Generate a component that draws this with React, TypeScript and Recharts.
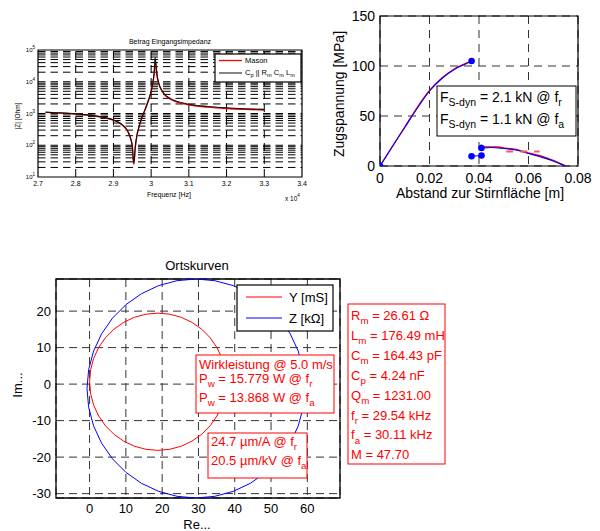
import React from 'react';
import {
  ComposedChart,
  Line,
  XAxis,
  YAxis,
  ReferenceLine,
  ReferenceArea,
  CartesianGrid,
  Scatter,
} from 'recharts';

const FONT = '"Liberation Sans", Arial, Helvetica, sans-serif';

// ---------- Chart 1: Betrag Eingangsimpedanz ----------
const impFreqMason = [2.72, 2.75, 2.8, 2.85, 2.9, 2.92, 2.94, 2.945, 2.95, 2.954, 2.958, 2.96, 2.97, 2.98, 2.99, 3.0, 3.005, 3.008, 3.012, 3.015, 3.02, 3.03, 3.05, 3.1, 3.15, 3.2, 3.25, 3.3];
const impZMason = [1090, 1050, 965, 838, 615, 468, 245, 170, 92, 25, 88, 138, 465, 1000, 2030, 4900, 9700, 17500, 40000, 17000, 8900, 4750, 2880, 1880, 1590, 1440, 1350, 1290];
const impFreqBVD = [2.72, 2.75, 2.8, 2.85, 2.9, 2.92, 2.94, 2.945, 2.95, 2.954, 2.958, 2.96, 2.97, 2.98, 2.99, 3.0, 3.005, 3.008, 3.0105, 3.013, 3.016, 3.02, 3.03, 3.05, 3.1, 3.15, 3.2, 3.25, 3.3];
const impZBVD = [1100, 1057, 972, 844, 625, 477, 250, 173, 94, 27, 90, 141, 474, 1027, 2096, 5111, 10200, 20000, 58000, 32000, 15700, 9166, 4930, 3001, 1966, 1664, 1511, 1416, 1348];
const impXTicks = [2.7, 2.8, 2.9, 3.0, 3.1, 3.2, 3.3, 3.4];
const impXTickLabels = ['2.7', '2.8', '2.9', '3', '3.1', '3.2', '3.3', '3.4'];
const impYTicks = [10, 100, 1000, 10000, 100000];
const impDecades = [10, 100, 1000, 10000];
const impMinorFactors = [1, 2, 3, 4, 5, 6, 7, 8, 9];
const impVGrid = [2.8, 2.9, 3.0, 3.1, 3.2, 3.3];

const masonData = impFreqMason.map((f, i) => ({ f, z: impZMason[i] }));
const bvdData = impFreqBVD.map((f, i) => ({ f, z: impZBVD[i] }));
const impHGrid = impDecades.flatMap((d) => impMinorFactors.map((m) => m * d)).filter((v) => v > 10);

// ---------- Chart 2: Zugspannung ----------
const stressXTicks = [0, 0.02, 0.04, 0.06, 0.08];
const stressYTicks = [0, 50, 100, 150];
const blueUpperX = [0, 0.005, 0.01, 0.015, 0.02, 0.025, 0.03, 0.035, 0.037];
const blueUpperY = [0, 19.5, 38.5, 57.5, 75, 87.5, 96.5, 102.5, 105];
const redUpperX = [0, 0.005, 0.01, 0.015, 0.02, 0.025, 0.03, 0.035, 0.037];
const redUpperY = [0, 19.5, 39, 58.5, 75.5, 88, 97, 103, 105];
const blueLowAX = [0.037, 0.041];
const blueLowAY = [9.7, 10.5];
const blueLowBX = [0.041, 0.045, 0.05, 0.055, 0.06, 0.065, 0.07, 0.0748];
const blueLowBY = [18, 18.5, 17.5, 16, 12.5, 9, 5, 0];
const redLowX = [0.0408, 0.041, 0.045, 0.048, 0.05, 0.055, 0.06, 0.065, 0.07, 0.075];
const redLowY = [21.5, 19, 19, 19, 18, 16.5, 13, 10, 5.5, 0];
const redDashX = [0.051, 0.0645];
const redDashY = [14.5, 14.5];
const dotX = [0, 0.037, 0.037, 0.041, 0.041];
const dotY = [0, 105, 9.7, 10.5, 18];

const zip = (xs: number[], ys: number[]) => xs.map((x, i) => ({ x, y: ys[i] }));

// ---------- Chart 3: Ortskurven ----------
const ortXTicks = [0, 10, 20, 30, 40, 50, 60];
const ortYTicks = [-30, -20, -10, 0, 10, 20];
const zRe = [59.3, 58.85, 57.49, 55.28, 52.28, 48.58, 44.3, 39.56, 34.51, 29.3, 24.09, 19.04, 14.3, 10.02, 6.32, 3.32, 1.11, -0.25, -0.7, -0.25, 1.11, 3.32, 6.32, 10.02, 14.3, 19.04, 24.09, 29.3, 34.51, 39.56, 44.3, 48.58, 52.28, 55.28, 57.49, 58.85, 59.3];
const zIm = [-1.2, 4.01, 9.06, 13.8, 18.08, 21.78, 24.78, 26.99, 28.34, 28.8, 28.34, 26.99, 24.78, 21.78, 18.08, 13.8, 9.06, 4.01, -1.2, -6.41, -11.46, -16.2, -20.48, -24.18, -27.18, -29.39, -30.74, -31.2, -30.74, -29.39, -27.18, -24.18, -20.48, -16.2, -11.46, -6.41, -1.2];
const yRe = [37.6, 37.31, 36.47, 35.08, 33.2, 30.89, 28.2, 25.23, 22.07, 18.8, 15.53, 12.37, 9.4, 6.71, 4.4, 2.52, 1.13, 0.29, 0, 0.29, 1.13, 2.52, 4.4, 6.71, 9.4, 12.37, 15.53, 18.8, 22.07, 25.23, 28.2, 30.89, 33.2, 35.08, 36.47, 37.31, 37.6];
const yIm = [0.65, 3.92, 7.08, 10.05, 12.74, 15.05, 16.93, 18.32, 19.16, 19.45, 19.16, 18.32, 16.93, 15.05, 12.74, 10.05, 7.08, 3.92, 0.65, -2.62, -5.78, -8.75, -11.44, -13.75, -15.63, -17.02, -17.86, -18.15, -17.86, -17.02, -15.63, -13.75, -11.44, -8.75, -5.78, -2.62, 0.65];

// ---------- Text content ----------
type Part = [string, 'n' | 'sub' | 'sup'];
const paramLines: Part[][] = [
  [['R', 'n'], ['m', 'sub'], [' = 26.61 Ω', 'n']],
  [['L', 'n'], ['m', 'sub'], [' = 176.49 mH', 'n']],
  [['C', 'n'], ['m', 'sub'], [' = 164.43 pF', 'n']],
  [['C', 'n'], ['p', 'sub'], [' = 4.24 nF', 'n']],
  [['Q', 'n'], ['m', 'sub'], [' = 1231.00', 'n']],
  [['f', 'n'], ['r', 'sub'], [' = 29.54 kHz', 'n']],
  [['f', 'n'], ['a', 'sub'], [' = 30.11 kHz', 'n']],
  [['M = 47.70', 'n']],
];
const powerLines: Part[][] = [
  [['Wirkleistung @ 5.0 m/s', 'n']],
  [['P', 'n'], ['w', 'sub'], [' = 15.779 W @ f', 'n'], ['r', 'sub']],
  [['P', 'n'], ['w', 'sub'], [' = 13.868 W @ f', 'n'], ['a', 'sub']],
];
const ampLines: Part[][] = [
  [['24.7 µm/A @ f', 'n'], ['r', 'sub']],
  [['20.5 µm/kV @ f', 'n'], ['a', 'sub']],
];
const forceLines: Part[][] = [
  [['F', 'n'], ['S-dyn', 'sub'], [' = 2.1 kN @ f', 'n'], ['r', 'sub']],
  [['F', 'n'], ['S-dyn', 'sub'], [' = 1.1 kN @ f', 'n'], ['a', 'sub']],
];
const impLegend2: Part[] = [['C', 'n'], ['p', 'sub'], [' || R', 'n'], ['m', 'sub'], [' C', 'n'], ['m', 'sub'], [' L', 'n'], ['m', 'sub']];

function Rich({ x, y, parts, size, fill, anchor }: { x: number; y: number; parts: Part[]; size: number; fill: string; anchor?: string }) {
  const shift = size * 0.32;
  let cur = 0;
  return (
    <text x={x} y={y} fontSize={size} fill={fill} textAnchor={anchor || 'start'}>
      {parts.map(([t, kind], i) => {
        const target = kind === 'sub' ? shift : kind === 'sup' ? -size * 0.45 : 0;
        const dy = target - cur;
        cur = target;
        return (
          <tspan key={i} dy={dy} fontSize={kind === 'n' ? size : size * 0.75}>
            {t}
          </tspan>
        );
      })}
    </text>
  );
}

const LogTick = (props: any) => {
  const { x, y, payload } = props;
  const exp = Math.round(Math.log10(payload.value));
  return (
    <text x={x} y={y + 2} textAnchor="end" fontSize={6} fill="#000">
      10
      <tspan dy={-3} fontSize={4.5}>
        {exp}
      </tspan>
    </text>
  );
};

export default function App() {
  return (
    <div style={{ position: 'absolute', left: 0, top: 0, width: 600, height: 531, fontFamily: FONT, background: '#fff' }}>
      {/* Chart 1 */}
      <div style={{ position: 'absolute', left: 0, top: 0 }}>
        <ComposedChart width={320} height={220} margin={{ top: 50, right: 18, bottom: 23, left: 8 }}>
          <XAxis
            type="number"
            dataKey="f"
            domain={[2.7, 3.4]}
            ticks={impXTicks}
            tickFormatter={(v: number) => impXTickLabels[impXTicks.findIndex((t) => Math.abs(t - v) < 1e-6)] ?? String(v)}
            height={20}
            tickLine={false}
            axisLine={false}
            tickSize={0}
            tickMargin={4}
            tick={{ fill: '#000', fontSize: 7 }}
            allowDataOverflow
          />
          <YAxis
            type="number"
            scale="log"
            domain={[10, 100000]}
            ticks={impYTicks}
            width={30}
            tickLine={false}
            axisLine={false}
            tickSize={0}
            tickMargin={3}
            tick={LogTick}
            allowDataOverflow
          />
          {impHGrid.map((v) => (
            <ReferenceLine key={'h' + v} y={v} stroke="#000" strokeWidth={1} strokeDasharray="7.5 5" />
          ))}
          {impVGrid.map((v) => (
            <ReferenceLine key={'v' + v} x={v} stroke="#000" strokeWidth={1} strokeDasharray="8 5" />
          ))}
          <Line data={masonData} dataKey="z" type="monotone" stroke="#ff0000" strokeWidth={1.4} dot={false} isAnimationActive={false} />
          <Line data={bvdData} dataKey="z" type="monotone" stroke="#111" strokeWidth={1.1} dot={false} isAnimationActive={false} />
          <ReferenceArea x1={2.7} x2={3.4} y1={10} y2={100000} fill="none" fillOpacity={0} stroke="#000" strokeWidth={1.2} ifOverflow="visible" />
        </ComposedChart>
      </div>

      {/* Chart 2 */}
      <div style={{ position: 'absolute', left: 320, top: 0 }}>
        <ComposedChart width={280} height={210} margin={{ top: 16, right: 22, bottom: 24, left: 15 }}>
          <CartesianGrid stroke="#333" strokeDasharray="8 6" />
          <XAxis
            type="number"
            dataKey="x"
            domain={[0, 0.08]}
            ticks={stressXTicks}
            tickFormatter={(v: number) => (v === 0 ? '0' : v.toFixed(2))}
            height={20}
            tickLine={false}
            axisLine={false}
            tickSize={4}
            tickMargin={3}
            tick={{ fill: '#000', fontSize: 14 }}
            allowDataOverflow
          />
          <YAxis
            type="number"
            dataKey="y"
            domain={[0, 150]}
            ticks={stressYTicks}
            width={45}
            tickLine={false}
            axisLine={false}
            tickSize={3}
            tickMargin={2}
            tick={{ fill: '#000', fontSize: 14 }}
            allowDataOverflow
          />
          <Line data={zip(redUpperX, redUpperY)} dataKey="y" type="monotone" stroke="#ff0000" strokeWidth={1.3} dot={false} isAnimationActive={false} />
          <Line data={zip(blueUpperX, blueUpperY)} dataKey="y" type="monotone" stroke="#0000ff" strokeWidth={1.1} dot={false} isAnimationActive={false} />
          <Line data={zip(redLowX, redLowY)} dataKey="y" type="linear" stroke="#ff0000" strokeWidth={1.4} dot={false} isAnimationActive={false} />
          <Line data={zip(blueLowBX, blueLowBY)} dataKey="y" type="monotone" stroke="#0000ff" strokeWidth={1.1} dot={false} isAnimationActive={false} />
          <Line data={zip(blueLowAX, blueLowAY)} dataKey="y" type="linear" stroke="#0000ff" strokeWidth={1.1} dot={false} isAnimationActive={false} />
          <Line data={zip(redDashX, redDashY)} dataKey="y" type="linear" stroke="#f05a6a" strokeWidth={2} strokeDasharray="7 7" dot={false} isAnimationActive={false} />
          <Scatter
            data={zip(dotX, dotY)}
            dataKey="y"
            isAnimationActive={false}
            shape={(p: any) => <circle cx={p.cx} cy={p.cy} r={3.3} fill="#0000ff" />}
          />
          <ReferenceArea x1={0} x2={0.08} y1={0} y2={150} fill="none" fillOpacity={0} stroke="#000" strokeWidth={1.2} ifOverflow="visible" />
        </ComposedChart>
      </div>

      {/* Chart 3 */}
      <div style={{ position: 'absolute', left: 0, top: 250 }}>
        <ComposedChart width={350} height={281} margin={{ top: 29, right: 10, bottom: 13, left: 16 }}>
          <CartesianGrid stroke="#333" strokeDasharray="8 5" />
          <XAxis
            type="number"
            dataKey="x"
            domain={[-9.25, 69]}
            ticks={ortXTicks}
            height={20}
            tickLine={false}
            axisLine={false}
            tickSize={4}
            tickMargin={2}
            tick={{ fill: '#000', fontSize: 13 }}
            allowDataOverflow
          />
          <YAxis
            type="number"
            dataKey="y"
            domain={[-31.2, 28.8]}
            ticks={ortYTicks}
            width={40}
            tickLine={false}
            axisLine={false}
            tickSize={3}
            tickMargin={2}
            tick={{ fill: '#000', fontSize: 13 }}
            allowDataOverflow
          />
          <Line data={zip(zRe, zIm)} dataKey="y" type="linear" stroke="#0000ff" strokeWidth={1} dot={false} isAnimationActive={false} />
          <Line data={zip(yRe, yIm)} dataKey="y" type="linear" stroke="#ff0000" strokeWidth={1} dot={false} isAnimationActive={false} />
          <ReferenceArea x1={-9.25} x2={69} y1={-31.2} y2={28.8} fill="none" fillOpacity={0} stroke="#000" strokeWidth={1.3} ifOverflow="visible" />
        </ComposedChart>
      </div>

      {/* Overlay: titles, labels, legends, annotation boxes */}
      <svg width={600} height={531} style={{ position: 'absolute', left: 0, top: 0, pointerEvents: 'none' }}>
        {/* Chart 1 texts */}
        <text x={170} y={43.5} fontSize={7} textAnchor="middle" fill="#000">Betrag Eingangsimpedanz</text>
        <text x={17} y={116} fontSize={6.5} textAnchor="middle" dominantBaseline="central" transform="rotate(-90 17 116)" fill="#000">|Z| [Ohm]</text>
        <text x={169} y={196.5} fontSize={7} textAnchor="middle" fill="#000">Frequenz [Hz]</text>
        <text x={285} y={200.5} fontSize={6.5} fill="#000">
          x 10<tspan dy={-3.5} fontSize={4.5}>4</tspan>
        </text>
        <rect x={215} y={54} width={86} height={28} fill="#fff" stroke="#000" strokeWidth={1.2} />
        <line x1={219} y1={60.5} x2={242} y2={60.5} stroke="#ff0000" strokeWidth={1.3} />
        <text x={245} y={63} fontSize={7.5} fill="#000">Mason</text>
        <line x1={219} y1={73} x2={242} y2={73} stroke="#444" strokeWidth={1.3} />
        <Rich x={245} y={75} parts={impLegend2} size={7.5} fill="#000" />

        {/* Chart 2 texts */}
        <text x={339} y={94} fontSize={14} textAnchor="middle" dominantBaseline="central" transform="rotate(-90 339 94)" fill="#000">Zugspannung [MPa]</text>
        <text x={480} y={198} fontSize={14} textAnchor="middle" fill="#000">Abstand zur Stirnfläche [m]</text>
        <rect x={437} y={86} width={139} height={50} fill="#fff" stroke="#000" strokeWidth={1} />
        {forceLines.map((ln, i) => (
          <Rich key={i} x={440} y={101.5 + i * 22.5} parts={ln} size={14} fill="#000" />
        ))}

        {/* Chart 3 texts */}
        <text x={197} y={270} fontSize={13} textAnchor="middle" fill="#000">Ortskurven</text>
        <text x={17} y={385} fontSize={13} textAnchor="middle" dominantBaseline="central" transform="rotate(-90 17 385)" fill="#000">Im...</text>
        <text x={197} y={529} fontSize={13} textAnchor="middle" fill="#000">Re...</text>
        <rect x={237} y={285} width={96} height={46} fill="#fff" stroke="#000" strokeWidth={1.2} />
        <line x1={246} y1={297} x2={282} y2={297} stroke="#ff0000" strokeWidth={1} />
        <text x={289} y={302} fontSize={13} fill="#000">Y [mS]</text>
        <line x1={246} y1={318} x2={282} y2={318} stroke="#0000ff" strokeWidth={1} />
        <text x={289} y={323} fontSize={13} fill="#000">Z [kΩ]</text>

        <rect x={196} y={355} width={138} height={58} fill="#fff" stroke="#ff0000" strokeWidth={1} />
        {powerLines.map((ln, i) => (
          <Rich key={i} x={199} y={[368.5, 382.5, 401.5][i]} parts={ln} size={13} fill="#ff0000" />
        ))}
        <rect x={208} y={433} width={99} height={45} fill="#fff" stroke="#ff0000" strokeWidth={1} />
        {ampLines.map((ln, i) => (
          <Rich key={i} x={211} y={[446, 465][i]} parts={ln} size={13} fill="#ff0000" />
        ))}
        <rect x={348} y={304} width={97} height={160} fill="#fff" stroke="#ff0000" strokeWidth={1} />
        {paramLines.map((ln, i) => (
          <Rich key={i} x={351} y={320 + i * 19.9} parts={ln} size={13} fill="#ff0000" />
        ))}
      </svg>
    </div>
  );
}
